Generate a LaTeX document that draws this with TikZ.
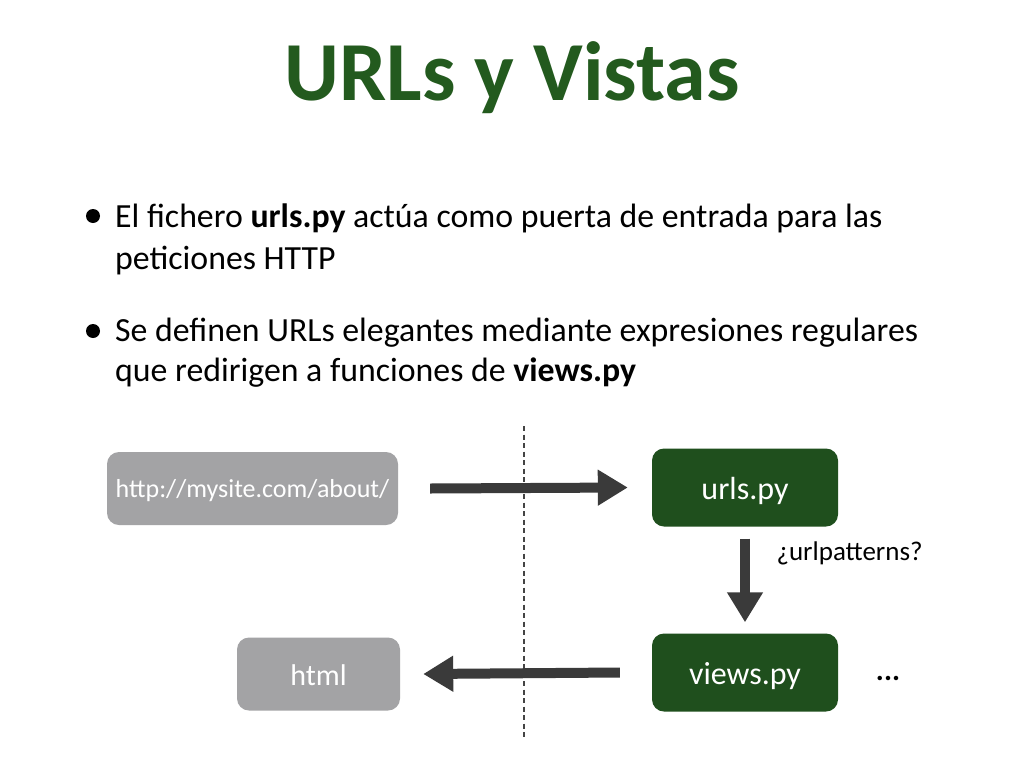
\documentclass[tikz,border=0pt]{standalone}
\usepackage{fontspec}
\setmainfont{Carlito}
\usetikzlibrary{arrows.meta}
\definecolor{titlegreen}{HTML}{235A1E}
\definecolor{boxgreen}{HTML}{1F4F1D}
\definecolor{boxgray}{HTML}{A3A3A5}
\definecolor{arrowgray}{HTML}{3A3A3A}
\definecolor{dashgray}{HTML}{444444}
\tikzset{
  graybox/.style={fill=boxgray, rounded corners=12pt, text=white, font=\fontsize{26}{30}\selectfont, inner sep=0pt, text depth=0pt},
  greenbox/.style={fill=boxgreen, rounded corners=12pt, text=white, font=\fontsize{32}{36}\selectfont, inner sep=0pt, minimum width=186pt, minimum height=78pt, text height=24pt, text depth=0pt},
  bigarrow/.style={draw=arrowgray, line width=10pt, -{Triangle[length=30pt,width=34pt]}},
  bline/.style={anchor=base west, font=\fontsize{33.8}{40}\selectfont, inner sep=0pt},
}
\begin{document}
\begin{tikzpicture}[x=1pt,y=-1pt]
\useasboundingbox (0,0) rectangle (1024,768);
\fill[white] (0,0) rectangle (1024,768);
% title
\node[anchor=base, text=titlegreen, font=\fontsize{84}{100}\selectfont\bfseries] (title) at (512,100) {URLs y Vistas};
% bullets
\fill (93,216) circle (7pt);
\node[bline] (b1a) at (115,227) {El fichero \textbf{urls.py} actúa como puerta de entrada para las};
\node[bline] (b1b) at (115,269) {peticiones HTTP};
\fill (93,331) circle (7pt);
\node[bline] (b2a) at (115,341) {Se definen URLs elegantes mediante expresiones regulares};
\node[bline] (b2b) at (115,381) {que redirigen a funciones de \textbf{views.py}};
% dashed separator
\coordinate (dtop) at (524,426);
\coordinate (dbot) at (524,738);
\draw[dashgray, line width=2.2pt, dash pattern=on 5pt off 3.5pt] (dtop) -- (dbot);
% boxes
\node[graybox, minimum width=291pt, minimum height=73pt, text height=17pt] (http) at (252.5,488.5) {http://mysite.com/about/};
\node[greenbox] (urls) at (745,487.5) {urls.py};
\node[greenbox] (views) at (745,672.5) {views.py};
\node[graybox, minimum width=163pt, minimum height=73pt, text height=22pt, font=\fontsize{30}{34}\selectfont] (html) at (318.5,674) {html};
% arrows
\draw[bigarrow] ([xshift=32pt]http.east) -- ([xshift=-24pt]urls.west);
\draw[bigarrow] ([yshift=-12pt]urls.south) -- ([yshift=11pt]views.north);
\draw[bigarrow] ([xshift=-32pt]views.west) -- ([xshift=23pt]html.east);
% labels
\node[anchor=west, font=\fontsize{27}{31}\selectfont] (pat) at (773,553) {¿urlpatterns?};
\node[font=\fontsize{30}{34}\selectfont\bfseries] (dots) at (888,678) {...};
\end{tikzpicture}
\end{document}
